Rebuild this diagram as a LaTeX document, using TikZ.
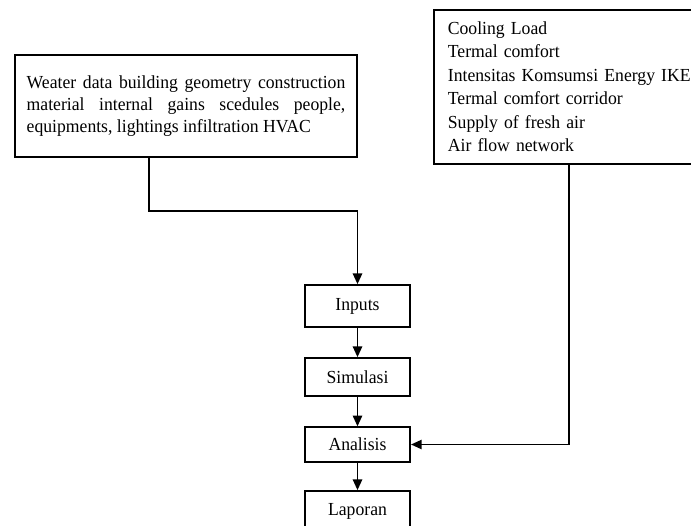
\documentclass[tikz,border=0pt]{standalone}
\usepackage{fontspec}
\setmainfont[FakeStretch=0.96]{Liberation Serif}
\usepackage{tikz}
\usetikzlibrary{arrows.meta, positioning}
\tikzstyle{process} = [rectangle, draw, line width=1.3pt, minimum width=79pt, align=center, font=\fontsize{13.8}{16}\selectfont]
\tikzstyle{infobox} = [rectangle, draw, line width=1.3pt, font=\fontsize{13.8}{16.3}\selectfont]
\tikzstyle{arrow} = [-{Triangle[length=8pt,width=7pt]}, line width=1.2pt]

\begin{document}
\begin{tikzpicture}[x=0.75pt, y=-0.75pt]
\path[use as bounding box, clip] (0,0) rectangle (691,525);

\node[infobox, text width=239pt, align=justify, inner xsep=9pt, minimum height=76.5pt] (weather) at (186,106)
  {\hyphenpenalty=10000 Weater data building geometry construction material internal gains scedules people, equipments, lightings infiltration HVAC\par};

\node[infobox, anchor=north west, text width=190pt, align=left, inner xsep=10.5pt, minimum height=115.5pt, font=\fontsize{13.8}{17.6}\selectfont] (output) at (433,9)
  {Cooling Load\\ Termal comfort\\ Intensitas Komsumsi Energy IKE\\ Termal comfort corridor\\ Supply of fresh air\\ Air flow network};

\node[process, minimum height=31.5pt] (inputs) at (357.5,306) {Inputs};
\node[process, minimum height=28.5pt] (simulasi) at (357.5,377) {Simulasi};
\node[process, minimum height=26pt] (analisis) at (357.5,444.5) {Analisis};
\node[process, minimum height=30pt] (laporan) at (357.5,511) {Laporan};

\coordinate (bend1) at (149,211);
\coordinate (bend2) at (569,300);

% flow down the middle
\draw[arrow] (weather.south -| bend1) -- (bend1) -| (inputs.north);
\draw[arrow] (inputs) -- (simulasi);
\draw[arrow] (simulasi) -- (analisis);
\draw[arrow] (analisis) -- (laporan);

% outputs fed back into analysis
\draw[arrow] (output.south -| bend2) |- (analisis.east);

\end{tikzpicture}
\end{document}
